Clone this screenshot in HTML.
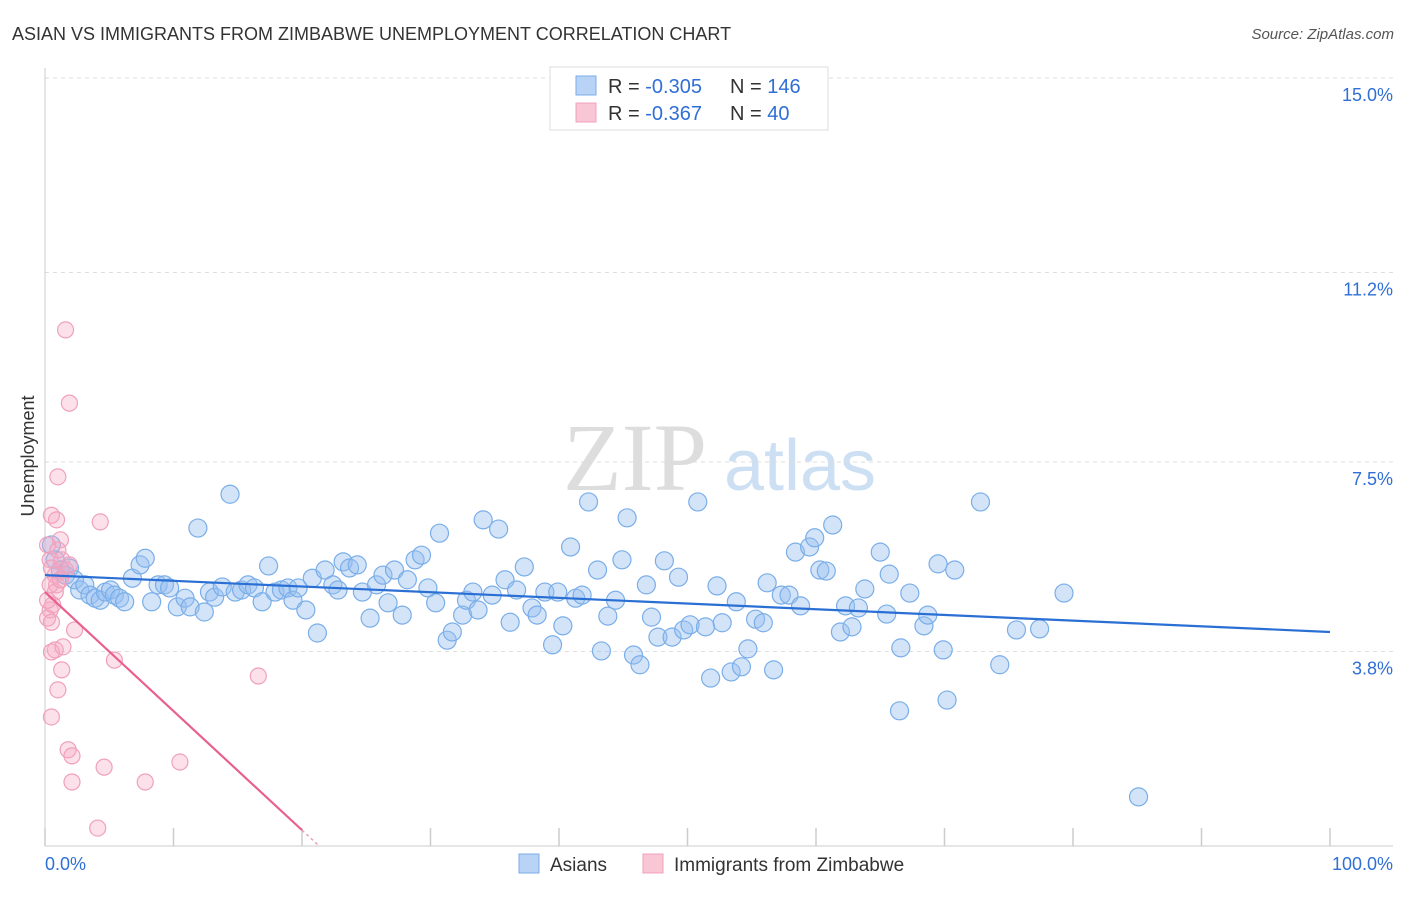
<!DOCTYPE html>
<html><head><meta charset="utf-8">
<style>
body{margin:0;background:#fff;font-family:"Liberation Sans",sans-serif;}
svg text{font-family:"Liberation Sans",sans-serif;}
</style></head>
<body>
<svg id="chart" width="1406" height="892" viewBox="0 0 1406 892" xmlns="http://www.w3.org/2000/svg">
<text x="12" y="40" font-size="18" fill="#333">ASIAN VS IMMIGRANTS FROM ZIMBABWE UNEMPLOYMENT CORRELATION CHART</text>
<text x="1394" y="39" font-size="15" fill="#555" text-anchor="end" font-style="italic">Source: ZipAtlas.com</text>
<g>
<text x="635" y="490" font-size="96" fill="#ddd" font-family="Liberation Serif" text-anchor="middle" style="font-family:'Liberation Serif',serif">ZIP</text>
<text x="800" y="490" font-size="72" fill="#cddff3" text-anchor="middle">atlas</text>
</g>
<g id="grid"></g>
<g id="axes"></g>
<g id="pts"></g>
<g id="lines"></g>
<text transform="translate(34,456) rotate(-90)" font-size="18" fill="#333" text-anchor="middle">Unemployment</text>
<g>
<rect x="550" y="67" width="278" height="63" fill="#fff" stroke="#ddd"/>
<rect x="576" y="76" width="20" height="19" fill="#b8d3f5" stroke="#7aaee8"/>
<rect x="576" y="103" width="20" height="19" fill="#f9c6d6" stroke="#f0a0bc"/>
<text x="608" y="93" font-size="20" fill="#333">R = <tspan fill="#2f6fd6">-0.305</tspan><tspan x="730">N = </tspan><tspan fill="#2f6fd6">146</tspan></text>
<text x="608" y="120" font-size="20" fill="#333">R = <tspan fill="#2f6fd6"> -0.367</tspan><tspan x="730">N = </tspan><tspan fill="#2f6fd6"> 40</tspan></text>
</g>
<g>
<rect x="519" y="854" width="20" height="19" fill="#b8d3f5" stroke="#7aaee8"/>
<text x="550" y="871" font-size="19" fill="#333">Asians</text>
<rect x="643" y="854" width="20" height="19" fill="#f9c6d6" stroke="#f0a0bc"/>
<text x="674" y="871" font-size="19" fill="#333">Immigrants from Zimbabwe</text>
</g>
</svg>
<script>
const yTicks=[15.0,11.2,7.5,3.8];
const yTickLabels=["15.0%","11.2%","7.5%","3.8%"];
const xTicks=[0,10,20,30,40,50,60,70,80,90,100];
const asianX=[0.5,0.8,1.2,1.6,1.9,2.3,2.7,3.1,3.5,3.9,4.3,4.7,5.1,5.4,5.8,6.2,6.8,7.4,7.8,8.3,8.8,9.3,9.7,10.3,10.9,11.3,11.9,12.4,12.8,13.2,13.8,14.4,14.8,15.3,15.8,16.3,16.9,17.4,17.9,18.4,18.9,19.3,19.7,20.3,20.8,21.2,21.8,22.4,22.8,23.2,23.7,24.3,24.7,25.3,25.8,26.3,26.7,27.2,27.8,28.2,28.8,29.3,29.8,30.4,30.7,31.3,31.7,32.5,32.8,33.3,33.7,34.1,34.8,35.3,35.8,36.2,36.7,37.3,37.9,38.3,38.9,39.5,39.9,40.3,40.9,41.3,41.8,42.3,43.0,43.3,43.8,44.4,44.9,45.3,45.8,46.3,46.8,47.2,47.7,48.2,48.8,49.3,49.7,50.2,50.8,51.4,51.8,52.3,52.7,53.4,53.8,54.2,54.7,55.3,55.9,56.2,56.7,57.3,57.9,58.4,58.8,59.5,59.9,60.3,60.8,61.3,61.9,62.3,62.8,63.3,63.8,65.0,65.5,65.7,66.5,66.6,67.3,68.4,68.7,69.5,69.9,70.2,70.8,72.8,74.3,75.6,77.4,79.3,85.1];
const asianY=[5.88,5.59,5.39,5.29,5.43,5.20,5.00,5.10,4.90,4.84,4.80,4.96,5.00,4.90,4.84,4.77,5.23,5.49,5.62,4.77,5.10,5.10,5.04,4.67,4.84,4.67,6.21,4.57,4.96,4.86,5.06,6.87,4.96,5.00,5.10,5.04,4.77,5.47,4.96,5.00,5.04,4.80,5.04,4.61,5.23,4.16,5.39,5.10,5.00,5.55,5.43,5.49,4.96,4.45,5.10,5.29,4.75,5.39,4.51,5.20,5.59,5.68,5.04,4.75,6.11,4.02,4.18,4.51,4.80,4.96,4.61,6.37,4.90,6.19,5.20,4.37,5.00,5.45,4.65,4.51,4.96,3.93,4.96,4.30,5.84,4.84,4.90,6.72,5.39,3.81,4.49,4.80,5.59,6.41,3.73,3.54,5.10,4.47,4.08,5.57,4.08,5.25,4.22,4.32,6.72,4.28,3.28,5.08,4.36,3.40,4.77,3.50,3.85,4.43,4.36,5.14,3.44,4.90,4.90,5.74,4.69,5.84,6.02,5.39,5.37,6.27,4.18,4.69,4.28,4.65,5.02,5.74,4.53,5.31,2.64,3.87,4.94,4.30,4.51,5.51,3.83,2.85,5.39,6.72,3.54,4.22,4.24,4.94,0.96];
const zimX=[0.2,0.4,0.5,0.8,0.9,0.4,0.2,0.5,0.9,1.2,1.3,1.6,1.9,1.0,4.3,0.8,0.6,0.4,0.8,0.5,1.4,1.3,1.0,0.5,1.8,2.1,2.1,4.1,4.6,7.8,10.5,16.6,5.4,2.3,1.6,1.2,0.2,0.5,1.0,1.9];
const zimY=[5.88,5.59,5.43,5.29,5.10,4.61,4.45,6.46,6.37,5.98,5.59,10.08,8.65,7.21,6.33,4.96,4.71,5.10,3.83,3.79,3.89,3.44,3.05,2.52,1.88,1.76,1.25,0.35,1.54,1.25,1.64,3.32,3.63,4.22,5.39,5.20,4.80,4.37,5.78,5.49];
const asianTrend=[5.29,4.18];
const zimTrend=[4.96,0.31];
const NS="http://www.w3.org/2000/svg";
const X0=45,X1=1330,Y0=846,PPY=51.2;
const sx=v=>X0+(X1-X0)*v/100;
const sy=v=>Y0-v*PPY;
function mk(tag,attrs,parent){const e=document.createElementNS(NS,tag);for(const k in attrs)e.setAttribute(k,attrs[k]);parent.appendChild(e);return e;}
const grid=document.getElementById('grid'),axes=document.getElementById('axes'),pts=document.getElementById('pts'),lines=document.getElementById('lines');
yTicks.forEach((t,i)=>{
  const l=mk('line',{x1:X0,x2:1393,y1:sy(t),y2:sy(t),stroke:'#ddd','stroke-dasharray':'4,4'},grid);
  
  
  const tx=mk('text',{x:1393,y:sy(t)+23,'font-size':18,fill:'#2f6fd6','text-anchor':'end'},axes);
  tx.textContent=yTickLabels[i];
  
  
});
const ax=mk('line',{x1:X0,x2:X0,y1:68,y2:Y0,stroke:'#ccc'},axes);


const bx=mk('line',{x1:X0,x2:1393,y1:Y0,y2:Y0,stroke:'#ccc'},axes);


xTicks.forEach(t=>{
  const l=mk('line',{x1:sx(t),x2:sx(t),y1:Y0-18,y2:Y0,stroke:'#ccc','stroke-width':1.5},axes);
  
  
});
const xl=mk('text',{x:X0,y:870,'font-size':18,fill:'#2f6fd6'},axes);xl.textContent='0.0%';


const xr=mk('text',{x:1393,y:870,'font-size':18,fill:'#2f6fd6','text-anchor':'end'},axes);xr.textContent='100.0%';


asianX.forEach((x,i)=>{
  const c=mk('circle',{cx:sx(x),cy:sy(asianY[i]),r:9,fill:'rgba(150,190,240,0.42)',stroke:'#7aaee8','stroke-width':1.2},pts);
  
  
});
zimX.forEach((x,i)=>{
  const c=mk('circle',{cx:sx(x),cy:sy(zimY[i]),r:8,fill:'rgba(245,170,195,0.35)',stroke:'#f0a0bc','stroke-width':1.2},pts);
  
  
});
const bl=mk('line',{x1:sx(0),y1:sy(asianTrend[0]),x2:sx(100),y2:sy(asianTrend[1]),stroke:'#2a6fd4','stroke-width':2.2},lines);


const pl=mk('line',{x1:sx(0),y1:sy(zimTrend[0]),x2:sx(20),y2:sy(zimTrend[1]),stroke:'#e8608f','stroke-width':2.2},lines);


const slope=(zimTrend[1]-zimTrend[0])/20;
const pd=mk('line',{x1:sx(20),y1:sy(zimTrend[1]),x2:sx(21.2),y2:sy(zimTrend[0]+slope*21.2),stroke:'#e8a0b8','stroke-width':1.5,'stroke-dasharray':'3,3'},lines);


</script>
</body></html>
